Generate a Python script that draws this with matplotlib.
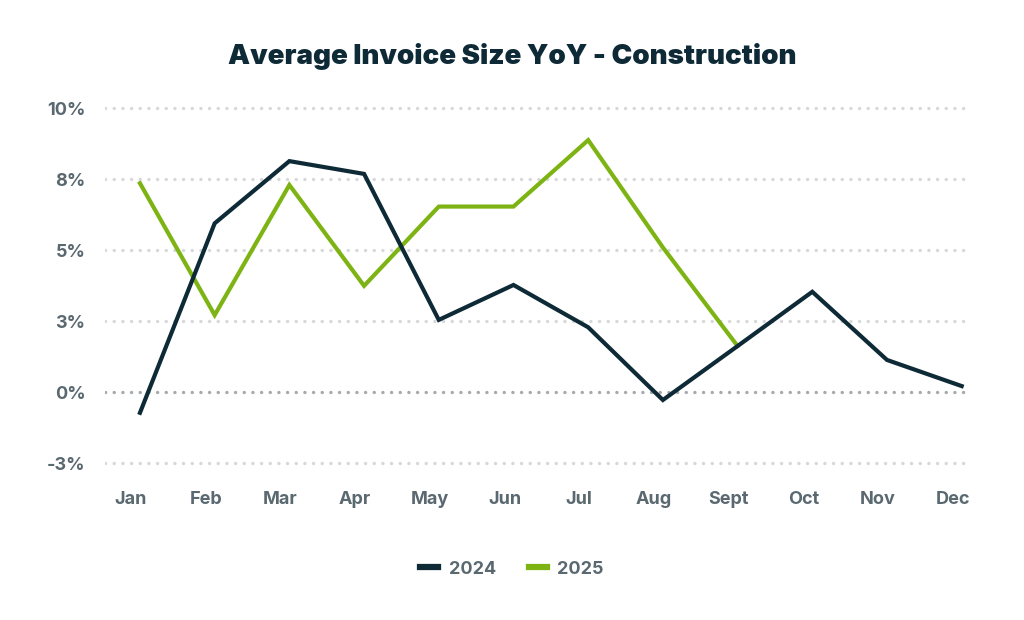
import matplotlib
matplotlib.use("Agg")
import matplotlib.pyplot as plt
from matplotlib.transforms import ScaledTranslation

mois = ["Jan", "Feb", "Mar", "Apr", "May", "Jun", "Jul", "Aug", "Sept", "Oct", "Nov", "Dec"]
valeurs_2024 = [-0.72, 5.95, 8.14, 7.69, 2.55, 3.78, 2.29, -0.27, 1.63, 3.54, 1.14, 0.22]
valeurs_2025 = [7.36, 2.72, 7.30, 3.75, 6.54, 6.54, 8.88, 5.10, 1.63]
ticks_y = [-2.5, 0, 2.5, 5, 7.5, 10]
labels_y = ["-3%", "0%", "3%", "5%", "8%", "10%"]

SOMBRE = "#0e2a36"
VERT = "#7db414"
GRIS_TEXTE = "#5a6870"

plt.rcParams["font.family"] = ["Inter", "DejaVu Sans"]

fig = plt.figure(figsize=(10.24, 6.2), dpi=100)
ax = fig.add_axes([0.1024, 0.2435, 0.8426, 0.591])

x = list(range(len(mois)))

# lignes de grille pointillées
for t in ticks_y:
    couleur = "#a6aaad" if t == 0 else "#d6d8da"
    ax.axhline(t, color=couleur, lw=2.4, linestyle=(0, (0.05, 2.55)),
               dash_capstyle="round", zorder=1)

ax.plot(x, valeurs_2024, color=SOMBRE, lw=3, label="2024", zorder=3,
        solid_joinstyle="miter")
ax.plot(x[:len(valeurs_2025)], valeurs_2025, color=VERT, lw=3, label="2025",
        zorder=2, solid_joinstyle="miter")

ax.set_xlim(-0.47, 11.08)
ax.set_ylim(-2.7, 10.2)
ax.set_xticks(x)
ax.set_xticklabels(mois)
ax.set_yticks(ticks_y)
ax.set_yticklabels(labels_y)
ax.tick_params(axis="both", length=0, labelsize=13, labelcolor=GRIS_TEXTE)
ax.tick_params(axis="y", pad=14)
ax.tick_params(axis="x", pad=16)
decalage = ScaledTranslation(-9 / 100, 0, fig.dpi_scale_trans)
for lab in ax.get_xticklabels():
    lab.set_transform(lab.get_transform() + decalage)
for lab in ax.get_xticklabels() + ax.get_yticklabels():
    lab.set_fontweight("bold")

for s in ax.spines.values():
    s.set_visible(False)

fig.text(0.5, 1 - 57 / 620, "Average Invoice Size YoY - Construction",
         ha="center", va="center", fontsize=20, fontweight="black", color=SOMBRE)

leg = fig.legend(loc="center", bbox_to_anchor=(0.5, 1 - 569 / 620), ncol=2,
                 frameon=False, handlelength=1.0, handletextpad=0.6,
                 columnspacing=1.8, prop={"size": 13, "weight": "bold"})
for h in leg.get_lines():
    h.set_linewidth(4.5)
for t in leg.get_texts():
    t.set_color(GRIS_TEXTE)

fig.savefig("out.png", dpi=100, facecolor="white")
